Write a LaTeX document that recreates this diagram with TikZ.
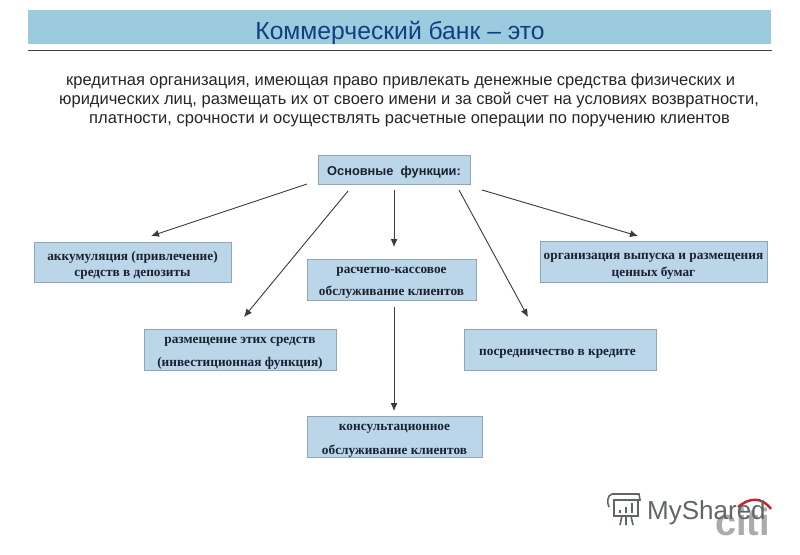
\documentclass[tikz,border=0pt]{standalone}
\usepackage{fontspec}
\setmainfont{Liberation Sans}
\newfontfamily\serifb{Liberation Serif}[BoldFont={Liberation Serif Bold}]
\definecolor{band}{HTML}{9CCBE0}
\definecolor{boxfill}{HTML}{BBD5E9}
\definecolor{boxline}{HTML}{8FA6BA}
\definecolor{titleblue}{HTML}{123F80}
\definecolor{inktext}{HTML}{18222E}
\definecolor{arrowc}{HTML}{3A3A3A}
\definecolor{logoc}{HTML}{5F6668}
\definecolor{citic}{HTML}{ABABAB}
\definecolor{citired}{HTML}{C8202A}
\usetikzlibrary{arrows.meta}
\tikzset{
 funcbox/.style={draw=boxline,fill=boxfill,line width=0.8pt,inner sep=0pt},
 fntxt/.style={inner sep=0pt,align=center,text=inktext,font=\serifb\bfseries\fontsize{13.3}{13.3}\selectfont},
 bodytxt/.style={font=\fontsize{16.5}{16.5}\selectfont,text=black!85,anchor=base west,inner sep=0pt},
 conn/.style={draw=arrowc,line width=0.9pt,-{Latex[length=8pt,width=7pt]}}
}
\begin{document}
\begin{tikzpicture}[x=1pt,y=-1pt]
\useasboundingbox (0,0) rectangle (800,554);
\fill[white] (0,0) rectangle (800,554);
% title band
\node[fill=band,minimum width=743pt,minimum height=34pt,inner sep=0pt] (title) at (399.5,27) {};
\node[text=titleblue,font=\fontsize{24.7}{25}\selectfont,anchor=base,inner sep=0pt] (titletext) at (400,39) {Коммерческий банк – это};
\coordinate (ruleL) at (28,50);
\coordinate (ruleR) at (772,50);
\draw[line width=0.8pt,color=black!75] (ruleL) -- (ruleR);
% body
\node[bodytxt] (l1) at (66,85) {кредитная организация, имеющая право привлекать денежные средства физических и};
\node[bodytxt] (l2) at (59,104) {юридических лиц, размещать их от своего имени и за свой счет на условиях возвратности,};
\node[bodytxt] (l3) at (89,123) {платности, срочности и осуществлять расчетные операции по поручению клиентов};
% boxes
\node[funcbox,minimum width=152pt,minimum height=29pt] (main) at (394,169.5) {};
\node[fntxt,font=\bfseries\fontsize{12.8}{12.8}\selectfont] (maint) at ([yshift=-3pt]main.center) {Основные\ \ функции:};
\node[funcbox,minimum width=197pt,minimum height=40pt] (b1) at (132.5,262) {};
\node[fntxt] (b1t) at ([yshift=-3pt]b1.center) {аккумуляция (привлечение)\\[3pt]средств в депозиты};
\node[funcbox,minimum width=192pt,minimum height=41pt] (b2) at (240,349.5) {};
\node[fntxt] (b2t) at ([yshift=-3.5pt]b2.center) {размещение этих средств\\[10pt](инвестиционная функция)};
\node[funcbox,minimum width=169pt,minimum height=41pt] (b3) at (391.5,279.5) {};
\node[fntxt] (b3t) at ([yshift=-3pt]b3.center) {расчетно-кассовое\\[9pt]обслуживание клиентов};
\node[funcbox,minimum width=227pt,minimum height=41pt] (b4) at (653.5,261.5) {};
\node[fntxt] (b4t) at ([yshift=-4.5pt]b4.center) {организация выпуска и размещения\\[4pt]ценных бумаг};
\node[funcbox,minimum width=192pt,minimum height=41pt] (b5) at (560,349.5) {};
\node[fntxt] (b5t) at ([xshift=-2.5pt,yshift=-4.5pt]b5.center) {посредничество в кредите};
\node[funcbox,minimum width=175pt,minimum height=41pt] (b6) at (394.5,436.5) {};
\node[fntxt] (b6t) at ([yshift=-4.5pt]b6.center) {консультационное\\[11pt]обслуживание клиентов};
% connector ends
\coordinate (s1) at (307,184);
\coordinate (e1) at (151,236);
\coordinate (s2) at (348,191);
\coordinate (e2) at (244,317);
\coordinate (s3) at (394,190);
\coordinate (e3) at (394,247);
\coordinate (s4) at (459,190);
\coordinate (e4) at (528,317);
\coordinate (s5) at (482,190);
\coordinate (e5) at (638,236);
\coordinate (s6) at (394,307);
\coordinate (e6) at (394,411);
\draw[conn] (s1) -- (e1);
\draw[conn] (s2) -- (e2);
\draw[conn] (s3) -- (e3);
\draw[conn] (s4) -- (e4);
\draw[conn] (s5) -- (e5);
\draw[conn] (s6) -- (e6);
% logos
\node[text=citic,font=\bfseries\fontsize{38}{38}\selectfont,anchor=base west,inner sep=0pt] (citi) at (715,535) {citi};
\draw[citired,line width=2.4pt] (738,507) .. controls (750,497) and (762,497) .. (771,509);
\node[text=logoc,font=\fontsize{26}{26}\selectfont,anchor=base west,inner sep=0pt] (mys) at (647,519) {MyShared};
\begin{scope}[draw=logoc,line width=1.6pt]
\draw (612,494) -- (639,494) -- (640,500) -- (613,500) (612,494) .. controls (607,495) and (607,503) .. (609,507) (614,500) -- (614,516) -- (638,516) -- (638,500);
\draw (622,516) -- (620,525) (626,516) -- (626,525) (631,516) -- (633,525);
\draw[line width=2.2pt] (620,513) -- (620,510) (626,513) -- (626,507) (632,513) -- (632,503);
\end{scope}
\end{tikzpicture}
\end{document}
